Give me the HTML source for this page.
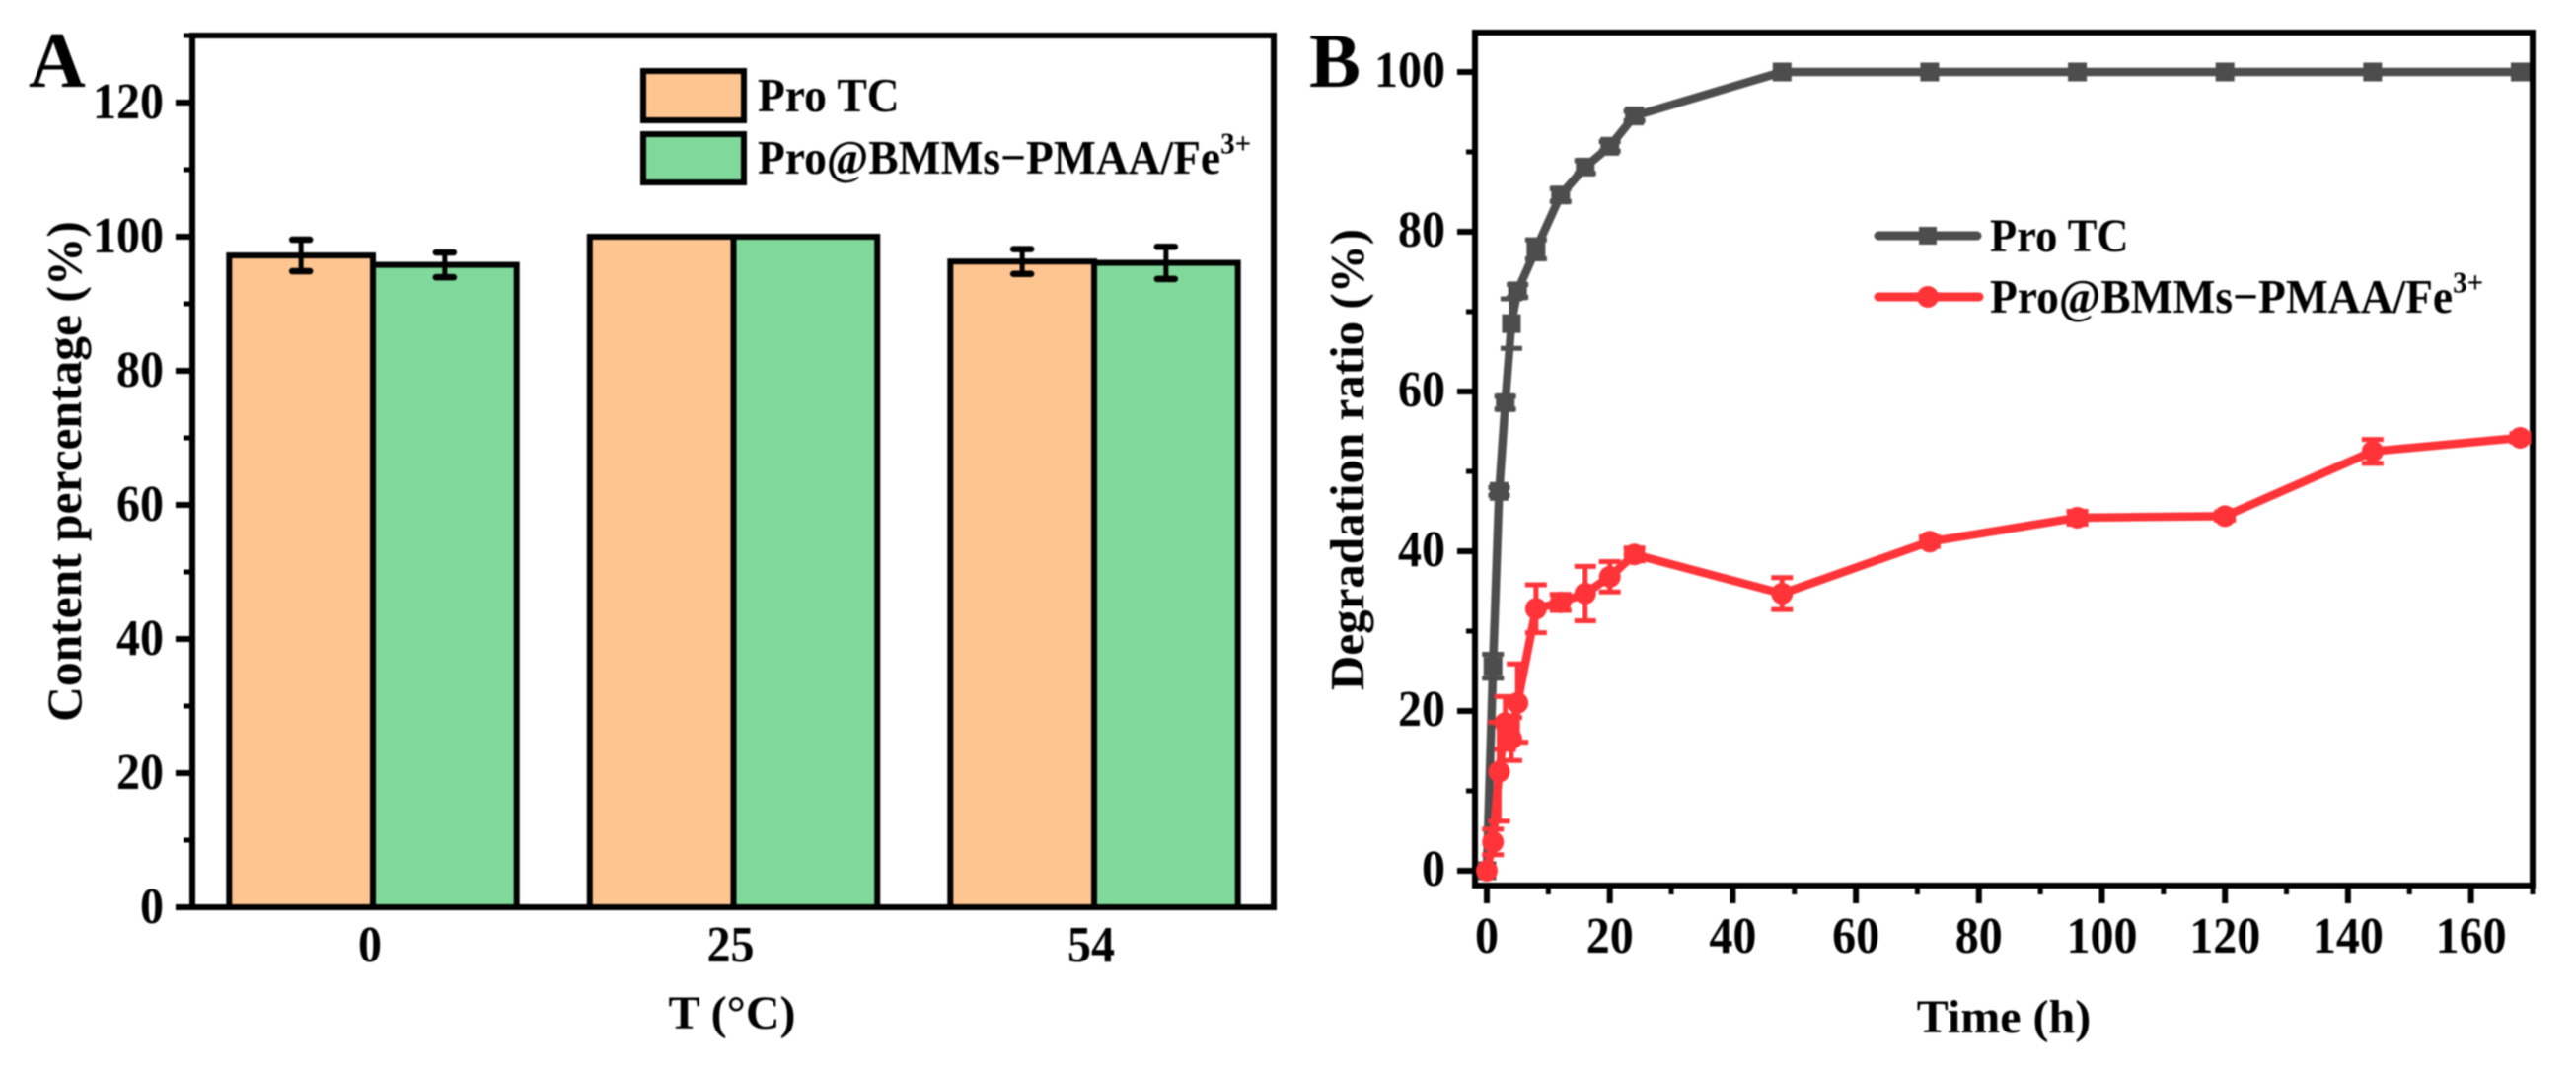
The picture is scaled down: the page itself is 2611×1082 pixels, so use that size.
<!DOCTYPE html>
<html lang="en">
<head>
<meta charset="utf-8">
<title>Content percentage and degradation ratio charts</title>
<style>
  html, body { margin: 0; padding: 0; background: #fff; }
  body { width: 2611px; height: 1082px; overflow: hidden; }
  svg { display: block; filter: blur(0.9px); }
  text { font-family: "Liberation Serif", serif; font-weight: bold; fill: #000; }
</style>
</head>
<body>
<svg id="figure" xmlns="http://www.w3.org/2000/svg" width="2611" height="1082" viewBox="0 0 2611 1082">
  <rect width="2611" height="1082" fill="#fff"/>
  <g id="panelA"></g>
  <g id="panelB"></g>
</svg>
<script>
// Panel A data
const barCategories = ['0', '25', '54'];
const barProTC = [97.2, 100, 96.3];
const barProTCErr = [2.35, 0, 1.85];
const barProBMMs = [95.8, 100, 96.1];
const barProBMMsErr = [1.85, 0, 2.4];
const barYTicks = [0, 20, 40, 60, 80, 100, 120];
const barYMinorTicks = [10, 30, 50, 70, 90, 110, 130];

// Panel B data
const timeHours = [0, 1, 2, 3, 4, 5, 8, 12, 16, 20, 24, 48, 72, 96, 120, 144, 168];
const lineProTC = [0, 25.6, 47.5, 58.6, 68.5, 72.6, 77.8, 84.6, 88.1, 90.7, 94.5, 100, 100, 100, 100, 100, 100];
const lineProTCErr = [0, 1.5, 0.5, 0.8, 3.1, 0.8, 1.2, 0.8, 0.8, 0.6, 0.6, 0, 0, 0, 0, 0, 0];
const lineProBMMs = [0, 3.6, 12.4, 18.5, 16.5, 21, 32.8, 33.6, 34.7, 36.8, 39.6, 34.7, 41.2, 44.2, 44.4, 52.5, 54.2];
const lineProBMMsErr = [0, 1.6, 6.2, 3.3, 2.7, 4.9, 3, 1, 3.4, 1.9, 0.8, 2, 0.6, 0.8, 0.5, 1.5, 0.5];
const lineXTicks = [0, 20, 40, 60, 80, 100, 120, 140, 160];
const lineXMinorTicks = [10, 30, 50, 70, 90, 110, 130, 150, 170];
const lineYTicks = [0, 20, 40, 60, 80, 100];
const lineYMinorTicks = [10, 30, 50, 70, 90];

const NS = 'http://www.w3.org/2000/svg';
function mk(parent, tag, attrs, txt) {
  const el = document.createElementNS(NS, tag);
  for (const k in attrs) el.setAttribute(k, attrs[k]);
  if (txt !== undefined) el.textContent = txt;
  parent.appendChild(el);
  return el;
}

const ORANGE = '#FFC591';
const GREEN = '#80D99B';
const GRAY = '#4D4D4D';
const RED = '#FF3338';
const tall = (x, y) => `translate(${x} ${y}) scale(1 1.07)`;

/* ---------- Panel A ---------- */
const A = document.getElementById('panelA');
const ax = { l: 195, r: 1291, t: 36, b: 920 };
const ayScale = v => 920 - 6.8 * v;
const axCenter = i => 378 + 365.5 * i;
const barW = 145.7;

function drawBar(i, val, err, color, side, name) {
  const x0 = axCenter(i) + (side < 0 ? -barW : 0);
  const r = mk(A, 'rect', { x: x0, y: ayScale(val), width: barW, height: ayScale(0) - ayScale(val), fill: color, stroke: '#000', 'stroke-width': 6 });
  
  
}
function drawBarErr(i, val, err, side, name) {
  if (!err) return;
  const cx = axCenter(i) + side * barW / 2;
  const g = mk(A, 'g', { stroke: '#000', 'stroke-linecap': 'round', fill: 'none' });
  
  
  mk(g, 'line', { x1: cx, x2: cx, y1: ayScale(val + err), y2: ayScale(val - err), 'stroke-width': 5 });
  mk(g, 'line', { x1: cx - 9, x2: cx + 9, y1: ayScale(val + err), y2: ayScale(val + err), 'stroke-width': 6.5 });
  mk(g, 'line', { x1: cx - 9, x2: cx + 9, y1: ayScale(val - err), y2: ayScale(val - err), 'stroke-width': 6.5 });
}
barCategories.forEach((c, i) => {
  drawBar(i, barProTC[i], barProTCErr[i], ORANGE, -1, 'pro-tc');
  drawBar(i, barProBMMs[i], barProBMMsErr[i], GREEN, 1, 'pro-bmms');
});
barCategories.forEach((c, i) => {
  drawBarErr(i, barProTC[i], barProTCErr[i], -1, 'pro-tc');
  drawBarErr(i, barProBMMs[i], barProBMMsErr[i], 1, 'pro-bmms');
  const t = mk(A, 'text', { transform: tall(axCenter(i) - 3, 975), 'font-size': 48, 'text-anchor': 'middle' }, c);
  
  
});
const frameA = mk(A, 'path', { d: `M${ax.l} ${ax.b}V${ax.t}H${ax.r}V${ax.b}`, fill: 'none', stroke: '#000', 'stroke-width': 6 });


const baseA = mk(A, 'line', { x1: 178, x2: ax.r + 3, y1: ax.b, y2: ax.b, stroke: '#000', 'stroke-width': 6 });


barYTicks.forEach(v => {
  const tk = mk(A, 'line', { x1: 178, x2: ax.l, y1: ayScale(v), y2: ayScale(v), stroke: '#000', 'stroke-width': 6 });
  
  
  const t = mk(A, 'text', { transform: tall(166, ayScale(v) + 16), 'font-size': 48, 'text-anchor': 'end' }, String(v));
  
  
});
barYMinorTicks.forEach(v => {
  const tk = mk(A, 'line', { x1: 186, x2: ax.l, y1: ayScale(v), y2: ayScale(v), stroke: '#000', 'stroke-width': 5 });
  
  
});
const yTitleA = mk(A, 'text', { transform: 'translate(82 478) rotate(-90)', 'font-size': 49.5, 'text-anchor': 'middle' }, 'Content percentage (%)');


const xTitleA = mk(A, 'text', { x: 742, y: 1043, 'font-size': 48, 'text-anchor': 'middle' }, 'T (°C)');


const letterA = mk(A, 'text', { x: 29, y: 88, 'font-size': 80 }, 'A');



// Panel A legend
const swatch1 = mk(A, 'rect', { x: 652, y: 72, width: 102, height: 50, fill: ORANGE, stroke: '#000', 'stroke-width': 6 });


const swatch2 = mk(A, 'rect', { x: 652, y: 136, width: 102, height: 49, fill: GREEN, stroke: '#000', 'stroke-width': 6 });


const leg1 = mk(A, 'text', { transform: tall(768, 113), 'font-size': 45.5 }, 'Pro TC');


const leg2 = mk(A, 'text', { transform: tall(768, 176), 'font-size': 45.5 }, 'Pro@BMMs−PMAA/Fe');


mk(leg2, 'tspan', { dy: -19, 'font-size': 29 }, '3+');

/* ---------- Panel B ---------- */
const B = document.getElementById('panelB');
const bx = { l: 1495, r: 2567, t: 33, b: 898 };
const bxScale = t => 1507 + 6.235 * t;
const byScale = v => 883 - 8.1 * v;

const frameB = mk(B, 'rect', { x: bx.l, y: bx.t, width: bx.r - bx.l, height: bx.b - bx.t, fill: 'none', stroke: '#000', 'stroke-width': 6 });



lineYTicks.forEach(v => {
  const tk = mk(B, 'line', { x1: 1477, x2: bx.l, y1: byScale(v), y2: byScale(v), stroke: '#000', 'stroke-width': 6 });
  
  
  const t = mk(B, 'text', { transform: tall(1465, byScale(v) + 15), 'font-size': 48, 'text-anchor': 'end' }, String(v));
  
  
});
lineYMinorTicks.forEach(v => {
  const tk = mk(B, 'line', { x1: 1486, x2: bx.l, y1: byScale(v), y2: byScale(v), stroke: '#000', 'stroke-width': 5 });
  
  
});
lineXTicks.forEach(v => {
  const tk = mk(B, 'line', { x1: bxScale(v), x2: bxScale(v), y1: bx.b, y2: 916, stroke: '#000', 'stroke-width': 6 });
  
  
  const t = mk(B, 'text', { transform: tall(bxScale(v), 966), 'font-size': 48, 'text-anchor': 'middle' }, String(v));
  
  
});
lineXMinorTicks.forEach(v => {
  const tk = mk(B, 'line', { x1: bxScale(v), x2: bxScale(v), y1: bx.b, y2: 907, stroke: '#000', 'stroke-width': 5 });
  
  
});

function drawSeries(vals, errs, color, marker, name) {
  const g = mk(B, 'g', {});
  
  
  vals.forEach((v, i) => {
    if (!errs[i]) return;
    const x = bxScale(timeHours[i]);
    const eg = mk(g, 'g', { stroke: color, fill: 'none' });
    
    
    mk(eg, 'line', { x1: x, x2: x, y1: byScale(v + errs[i]), y2: byScale(v - errs[i]), 'stroke-width': 5 });
    mk(eg, 'line', { x1: x - 11, x2: x + 11, y1: byScale(v + errs[i]), y2: byScale(v + errs[i]), 'stroke-width': 5 });
    mk(eg, 'line', { x1: x - 11, x2: x + 11, y1: byScale(v - errs[i]), y2: byScale(v - errs[i]), 'stroke-width': 5 });
  });
  const pts = vals.map((v, i) => bxScale(timeHours[i]) + ',' + byScale(v)).join(' ');
  const pl = mk(g, 'polyline', { points: pts, fill: 'none', stroke: color, 'stroke-width': 8.5, 'stroke-linejoin': 'round' });
  
  
  vals.forEach((v, i) => {
    const x = bxScale(timeHours[i]), y = byScale(v);
    const m = marker === 'square'
      ? mk(g, 'rect', { x: x - 9.5, y: y - 9.5, width: 19, height: 19, fill: color })
      : mk(g, 'circle', { cx: x, cy: y, r: 11, fill: color });
    
    
  });
}
drawSeries(lineProTC, lineProTCErr, GRAY, 'square', 'pro-tc');
drawSeries(lineProBMMs, lineProBMMsErr, RED, 'circle', 'pro-bmms');

const yTitleB = mk(B, 'text', { transform: 'translate(1382 466) rotate(-90)', 'font-size': 49, 'text-anchor': 'middle' }, 'Degradation ratio (%)');


const xTitleB = mk(B, 'text', { x: 2031, y: 1047, 'font-size': 48, 'text-anchor': 'middle' }, 'Time (h)');


const letterB = mk(B, 'text', { x: 1327, y: 88, 'font-size': 78 }, 'B');



// Panel B legend
const lgLine1 = mk(B, 'line', { x1: 1904, x2: 2004, y1: 239, y2: 239, stroke: GRAY, 'stroke-width': 9, 'stroke-linecap': 'round' });


const lgMark1 = mk(B, 'rect', { x: 1945, y: 230, width: 18, height: 18, fill: GRAY });


const lgLine2 = mk(B, 'line', { x1: 1904, x2: 2006, y1: 301, y2: 301, stroke: RED, 'stroke-width': 9, 'stroke-linecap': 'round' });


const lgMark2 = mk(B, 'circle', { cx: 1954, cy: 301, r: 11, fill: RED });


const lgText1 = mk(B, 'text', { transform: tall(2017, 255), 'font-size': 44.5 }, 'Pro TC');


const lgText2 = mk(B, 'text', { transform: tall(2017, 317), 'font-size': 45.5 }, 'Pro@BMMs−PMAA/Fe');


mk(lgText2, 'tspan', { dy: -19, 'font-size': 29 }, '3+');
</script>
</body>
</html>
